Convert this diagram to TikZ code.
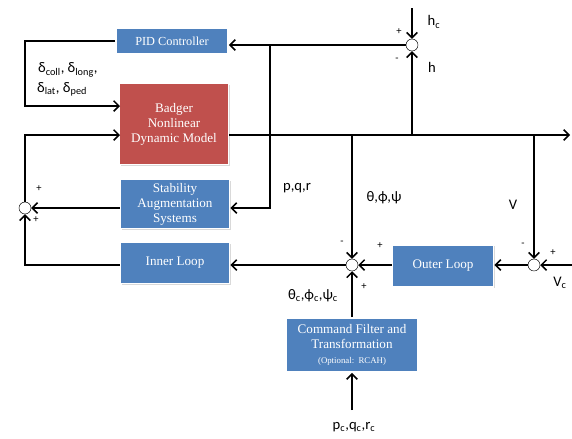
\documentclass[tikz,border=0pt]{standalone}
\usepackage{fontspec}
\setmainfont{Liberation Serif}
\newfontfamily\lblfont{Carlito}
\usetikzlibrary{arrows.meta,shadows}

\definecolor{blkblue}{RGB}{79,129,189}
\definecolor{blkred}{RGB}{192,80,77}

\begin{document}
\begin{tikzpicture}
	  [
	    x                   = 0.03cm,
	    y                   = -0.03cm,
	    every node/.style   = {font=\lblfont\fontsize{12.5}{14}\selectfont},
	    blk/.style          = {
			draw=white, line width=1.5pt, fill=blkblue, text=white,
			align=center, inner sep=0pt,
			font=\fontsize{11.2}{12.8}\selectfont,
			drop shadow={opacity=0.3, shadow xshift=1.2pt, shadow yshift=-1.2pt}
		},
	    sj/.style           = {circle, draw, thin, fill=white, minimum size=0.36cm, inner sep=0pt},
	    wire/.style         = {line width=1.3pt, -{Straight Barb[length=4.5pt,width=9pt]}},
	    sgn/.style          = {font=\lblfont\fontsize{9}{10}\selectfont, inner sep=0pt}
		]
		\useasboundingbox (0,0) rectangle (572,438);

		% blocks
		\node[blk, font=\fontsize{10.5}{12}\selectfont, minimum width=3.36cm, minimum height=0.78cm] (pid) at (172,41) {PID Controller};
		\node[blk, fill=blkred, minimum width=3.27cm, minimum height=2.43cm] (bdg) at (174,124)
			{Badger\\Nonlinear\\Dynamic Model};
		\node[blk, minimum width=3.27cm, minimum height=1.47cm] (sas) at (175,204)
			{Stability\\Augmentation\\Systems};
		\node[blk, minimum width=3.27cm, minimum height=1.23cm] (inner) at (175,263) {Inner Loop};
		\node[blk, minimum width=3.03cm, minimum height=1.26cm] (outer) at (443,266) {Outer Loop};
		\node[blk, minimum width=3.96cm, minimum height=1.62cm] (cmd) at (352,345)
			{Command Filter and\\Transformation\\{\fontsize{7.5}{8.5}\selectfont(Optional:\ \ RCAH)}};

		% summing junctions
		\node[sj] (top) at (412,45) {};
		\node[sj] (lj) at (25,208) {};
		\node[sj] (mj) at (352,265) {};
		\node[sj] (rj) at (534,265) {};

		% free ends and taps
		\coordinate (bin1) at (120,106);
		\coordinate (bin2) at (120,135);
		\coordinate (bout) at (229,135);
		\coordinate (out) at (570,135);
		\coordinate (tap) at (270,45);
		\coordinate (hcin) at (412,8);
		\coordinate (vcin) at (572,265);
		\coordinate (pcin) at (352,410);

		% connectors
		\draw[wire] (top.west) -- (top.west -| pid.east);
		\draw[wire] (pid.west) -- (pid.west -| lj) |- (bin1);
		\draw[wire] (lj.north) |- (bin2);
		\draw[wire] (sas.west |- lj) -- (lj.east);
		\draw[wire] (inner.west |- mj) -| (lj.south);
		\draw[wire] (bout) -- (out);
		\draw[wire] (tap) |- (sas.east |- lj);
		\draw[wire] (hcin) -- (top.north);
		\draw[wire] (top |- out) -- (top.south);
		\draw[wire] (mj |- out) -- (mj.north);
		\draw[wire] (rj |- out) -- (rj.north);
		\draw[wire] (mj.west) -- (inner.east |- mj);
		\draw[wire] (outer.west |- mj) -- (mj.east);
		\draw[wire] (rj.west) -- (outer.east |- rj);
		\draw[wire] (vcin) -- (rj.east);
		\draw[wire] (cmd.north) -- (mj.south);
		\draw[wire] (pcin) -- (cmd.south);

		% signal labels
		\node[anchor=west] (dlt1) at (34,70) {δ\textsubscript{coll}, δ\textsubscript{long},};
		\node[anchor=west] (dlt2) at (33,89) {δ\textsubscript{lat}, δ\textsubscript{ped}};
		\node (hc) at (434,22) {h\textsubscript{c}};
		\node (h) at (432,67) {h};
		\node (pqr) at (297,188) {p,q,r};
		\node (att) at (384,198) {θ,ϕ,ψ};
		\node (vv) at (513,205) {V};
		\node (vc) at (560,283) {V\textsubscript{c}};
		\node (attc) at (313,296) {θ\textsubscript{c},ϕ\textsubscript{c},ψ\textsubscript{c}};
		\node (pqrc) at (354,427) {p\textsubscript{c},q\textsubscript{c},r\textsubscript{c}};

		% signs
		\node[sgn] at (399,32) {+};
		\node[sgn] at (397,60) {-};
		\node[sgn] at (39,189) {+};
		\node[sgn] at (36,220) {+};
		\node[sgn] at (342,243) {-};
		\node[sgn] at (380,246) {+};
		\node[sgn] at (364,287) {+};
		\node[sgn] at (523,245) {-};
		\node[sgn] at (553,253) {+};
	\end{tikzpicture}
\end{document}
